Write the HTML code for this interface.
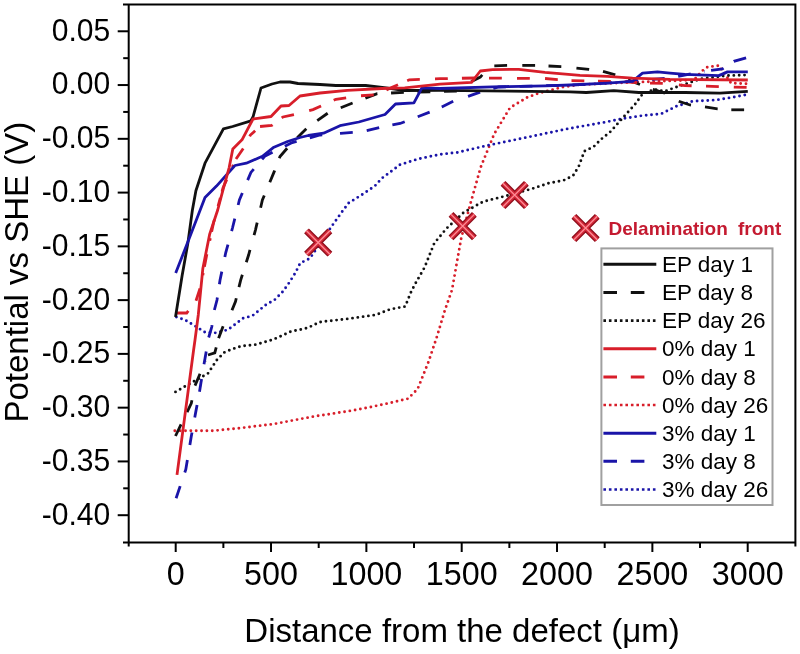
<!DOCTYPE html>
<html><head><meta charset="utf-8"><style>
html,body{margin:0;padding:0;background:#fff;width:800px;height:654px;overflow:hidden}
svg{display:block;will-change:transform}
text{font-family:"Liberation Sans",sans-serif;fill:#000}
</style></head><body>
<svg width="800" height="654" viewBox="0 0 800 654">
<rect width="800" height="654" fill="#fff"/>
<polyline points="174.8,430.8 213.3,430.8 240.8,428.0 273.9,424.0 313.0,416.6 348.8,411.1 370.8,407.0 390.1,402.9 408.0,398.7 417.6,389.1 428.6,361.6 436.9,336.8 445.2,309.3 452.0,290.0 461.2,238.3 471.0,201.6 480.7,167.3 494.2,134.0 510.0,107.8 527.5,97.3 540.1,92.8 563.0,87.0 580.0,84.7 640.0,82.0 694.0,80.0 702.5,70.6 707.5,67.0 719.0,65.6 725.0,74.0 731.0,83.1 747.8,83.8" stroke="#d81e2a" stroke-width="2.9" fill="none" stroke-linecap="round" stroke-dasharray="0 5.35"/>
<polyline points="176.4,317.0 185.0,319.9 204.9,332.1 215.6,332.9 227.8,329.8 243.1,318.3 252.4,315.8 265.9,304.8 274.5,300.0 283.0,291.4 289.1,282.8 295.3,273.0 300.2,263.2 310.0,258.3 332.0,225.9 341.2,212.9 348.8,202.9 361.0,195.3 374.8,186.1 381.7,178.4 400.1,164.7 418.4,158.9 440.0,154.4 457.5,152.4 487.3,145.5 531.9,136.3 567.5,128.8 605.0,122.2 623.8,118.4 642.5,115.6 661.3,113.8 676.3,106.3 692.5,101.3 716.3,100.0 735.0,96.9 747.8,94.4" stroke="#1a14a8" stroke-width="2.9" fill="none" stroke-linecap="round" stroke-dasharray="0 5.35"/>
<polyline points="175.5,391.9 185.0,386.4 208.0,373.4 217.1,359.6 224.8,352.0 237.0,347.4 243.1,345.9 256.0,344.6 273.5,339.4 291.0,331.5 307.5,328.0 320.0,322.0 348.8,318.7 376.3,314.8 390.1,309.3 405.2,306.5 410.7,292.8 414.7,284.8 424.5,267.6 434.3,243.2 446.5,228.5 463.6,212.6 483.2,201.6 502.8,196.7 531.9,188.8 548.8,183.1 563.8,180.3 573.1,175.6 578.8,166.3 584.4,151.3 593.8,146.6 601.3,139.1 610.6,131.6 618.1,123.1 625.6,114.7 635.0,104.4 642.5,94.1 653.8,89.4 665.0,91.3 675.0,87.5 701.0,78.8 727.5,75.6 747.8,75.0" stroke="#111" stroke-width="2.9" fill="none" stroke-linecap="round" stroke-dasharray="0 5.35"/>
<polyline points="175.50,436.00 184.25,417.89" stroke="#111" stroke-width="2.8" fill="none" stroke-dasharray="12.8 13.7" stroke-dashoffset="0.00"/>
<polyline points="184.25,417.89 191.30,403.30 193.67,391.96" stroke="#111" stroke-width="2.8" fill="none" stroke-dasharray="12.8 13.7" stroke-dashoffset="20.00"/>
<polyline points="193.67,391.96 195.00,385.60 199.50,375.00 205.46,360.98" stroke="#111" stroke-width="2.8" fill="none" stroke-dasharray="12.8 13.7" stroke-dashoffset="20.00"/>
<polyline points="205.46,360.98 208.00,355.00 214.80,352.80 216.96,344.49" stroke="#111" stroke-width="2.8" fill="none" stroke-dasharray="12.8 13.7" stroke-dashoffset="20.00"/>
<polyline points="216.96,344.49 218.60,338.20 223.20,326.00 229.06,316.10" stroke="#111" stroke-width="2.8" fill="none" stroke-dasharray="12.8 13.7" stroke-dashoffset="20.00"/>
<polyline points="229.06,316.10 230.90,313.00 235.50,301.50 237.44,293.42" stroke="#111" stroke-width="2.8" fill="none" stroke-dasharray="12.8 13.7" stroke-dashoffset="20.00"/>
<polyline points="237.44,293.42 240.60,280.30 244.35,268.45" stroke="#111" stroke-width="2.8" fill="none" stroke-dasharray="12.8 13.7" stroke-dashoffset="20.00"/>
<polyline points="244.35,268.45 248.60,255.00 252.35,241.31" stroke="#111" stroke-width="2.8" fill="none" stroke-dasharray="12.8 13.7" stroke-dashoffset="20.00"/>
<polyline points="252.35,241.31 255.50,229.80 259.15,214.04" stroke="#111" stroke-width="2.8" fill="none" stroke-dasharray="12.8 13.7" stroke-dashoffset="20.00"/>
<polyline points="259.15,214.04 262.40,200.00 267.30,188.23" stroke="#111" stroke-width="2.8" fill="none" stroke-dasharray="12.8 13.7" stroke-dashoffset="20.00"/>
<polyline points="267.30,188.23 273.90,172.40 277.00,164.32" stroke="#111" stroke-width="2.8" fill="none" stroke-dasharray="12.8 13.7" stroke-dashoffset="20.00"/>
<polyline points="277.00,164.32 280.00,156.50 290.00,145.00 292.65,142.35" stroke="#111" stroke-width="2.8" fill="none" stroke-dasharray="12.8 13.7" stroke-dashoffset="20.00"/>
<polyline points="292.65,142.35 307.00,128.00 311.96,124.45" stroke="#111" stroke-width="2.8" fill="none" stroke-dasharray="12.8 13.7" stroke-dashoffset="20.00"/>
<polyline points="311.96,124.45 328.00,113.00 334.72,110.26" stroke="#111" stroke-width="2.8" fill="none" stroke-dasharray="12.8 13.7" stroke-dashoffset="20.00"/>
<polyline points="334.72,110.26 352.00,103.20 377.20,93.60 404.70,92.40 462.00,91.00 466.90,86.10" stroke="#111" stroke-width="2.8" fill="none" stroke-dasharray="12.8 13.7" stroke-dashoffset="20.00"/>
<polyline points="466.90,86.10 471.50,81.50 480.30,77.10 488.56,67.64" stroke="#111" stroke-width="2.8" fill="none" stroke-dasharray="12.8 13.7" stroke-dashoffset="20.00"/>
<polyline points="488.56,67.64 490.00,66.00 507.40,65.40 515.80,65.40" stroke="#111" stroke-width="2.8" fill="none" stroke-dasharray="12.8 13.7" stroke-dashoffset="20.00"/>
<polyline points="515.80,65.40 535.40,65.40 542.03,65.70" stroke="#111" stroke-width="2.8" fill="none" stroke-dasharray="12.8 13.7" stroke-dashoffset="20.00"/>
<polyline points="542.03,65.70 561.60,66.60 569.97,67.46" stroke="#111" stroke-width="2.8" fill="none" stroke-dasharray="12.8 13.7" stroke-dashoffset="20.00"/>
<polyline points="569.97,67.46 588.80,69.40 596.56,70.44" stroke="#111" stroke-width="2.8" fill="none" stroke-dasharray="12.8 13.7" stroke-dashoffset="20.00"/>
<polyline points="596.56,70.44 603.00,71.30 615.60,75.00 651.00,88.80 667.00,93.80 673.31,97.81" stroke="#111" stroke-width="2.8" fill="none" stroke-dasharray="12.8 13.7" stroke-dashoffset="20.00"/>
<polyline points="673.31,97.81 678.80,101.30 690.00,105.00 698.55,106.08" stroke="#111" stroke-width="2.8" fill="none" stroke-dasharray="12.8 13.7" stroke-dashoffset="20.00"/>
<polyline points="698.55,106.08 705.00,106.90 717.50,108.80 724.82,109.33" stroke="#111" stroke-width="2.8" fill="none" stroke-dasharray="12.8 13.7" stroke-dashoffset="20.00"/>
<polyline points="724.82,109.33 731.30,109.80 747.80,109.80" stroke="#111" stroke-width="2.8" fill="none" stroke-dasharray="12.8 13.7" stroke-dashoffset="20.00"/>
<polyline points="176.10,498.30 182.71,478.62" stroke="#1a14a8" stroke-width="2.8" fill="none" stroke-dasharray="12.8 13.7" stroke-dashoffset="0.00"/>
<polyline points="182.71,478.62 185.80,469.40 188.79,451.42" stroke="#1a14a8" stroke-width="2.8" fill="none" stroke-dasharray="12.8 13.7" stroke-dashoffset="20.00"/>
<polyline points="188.79,451.42 191.30,436.30 193.57,423.96" stroke="#1a14a8" stroke-width="2.8" fill="none" stroke-dasharray="12.8 13.7" stroke-dashoffset="20.00"/>
<polyline points="193.57,423.96 198.32,398.09" stroke="#1a14a8" stroke-width="2.8" fill="none" stroke-dasharray="12.8 13.7" stroke-dashoffset="20.00"/>
<polyline points="198.32,398.09 199.50,391.70 202.95,370.61" stroke="#1a14a8" stroke-width="2.8" fill="none" stroke-dasharray="12.8 13.7" stroke-dashoffset="20.00"/>
<polyline points="202.95,370.61 204.00,364.20 207.57,343.90" stroke="#1a14a8" stroke-width="2.8" fill="none" stroke-dasharray="12.8 13.7" stroke-dashoffset="20.00"/>
<polyline points="207.57,343.90 208.70,337.50 211.80,326.80 213.29,316.42" stroke="#1a14a8" stroke-width="2.8" fill="none" stroke-dasharray="12.8 13.7" stroke-dashoffset="20.00"/>
<polyline points="213.29,316.42 214.00,311.50 217.00,300.00 218.43,290.61" stroke="#1a14a8" stroke-width="2.8" fill="none" stroke-dasharray="12.8 13.7" stroke-dashoffset="20.00"/>
<polyline points="218.43,290.61 220.00,280.30 223.52,263.29" stroke="#1a14a8" stroke-width="2.8" fill="none" stroke-dasharray="12.8 13.7" stroke-dashoffset="20.00"/>
<polyline points="223.52,263.29 225.70,252.80 229.93,237.29" stroke="#1a14a8" stroke-width="2.8" fill="none" stroke-dasharray="12.8 13.7" stroke-dashoffset="20.00"/>
<polyline points="229.93,237.29 232.60,227.50 236.60,211.32" stroke="#1a14a8" stroke-width="2.8" fill="none" stroke-dasharray="12.8 13.7" stroke-dashoffset="20.00"/>
<polyline points="236.60,211.32 239.40,200.00 245.17,186.16" stroke="#1a14a8" stroke-width="2.8" fill="none" stroke-dasharray="12.8 13.7" stroke-dashoffset="20.00"/>
<polyline points="245.17,186.16 250.90,172.40 257.87,164.27" stroke="#1a14a8" stroke-width="2.8" fill="none" stroke-dasharray="12.8 13.7" stroke-dashoffset="20.00"/>
<polyline points="257.87,164.27 264.70,156.30 278.40,149.40 292.20,142.60 320.00,135.00 333.53,133.88" stroke="#1a14a8" stroke-width="2.8" fill="none" stroke-dasharray="12.8 13.7" stroke-dashoffset="20.00"/>
<polyline points="333.53,133.88 340.50,133.30 360.34,131.65" stroke="#1a14a8" stroke-width="2.8" fill="none" stroke-dasharray="12.8 13.7" stroke-dashoffset="20.00"/>
<polyline points="360.34,131.65 363.40,131.40 381.70,127.00 385.99,126.18" stroke="#1a14a8" stroke-width="2.8" fill="none" stroke-dasharray="12.8 13.7" stroke-dashoffset="20.00"/>
<polyline points="385.99,126.18 400.10,123.50 411.64,119.08" stroke="#1a14a8" stroke-width="2.8" fill="none" stroke-dasharray="12.8 13.7" stroke-dashoffset="20.00"/>
<polyline points="411.64,119.08 418.40,116.50 430.00,112.00 435.78,109.50" stroke="#1a14a8" stroke-width="2.8" fill="none" stroke-dasharray="12.8 13.7" stroke-dashoffset="20.00"/>
<polyline points="435.78,109.50 441.80,106.90 454.00,100.80 461.86,98.33" stroke="#1a14a8" stroke-width="2.8" fill="none" stroke-dasharray="12.8 13.7" stroke-dashoffset="20.00"/>
<polyline points="461.86,98.33 468.00,96.40 480.30,92.00 498.80,87.00 580.00,84.70 615.00,82.40 645.00,80.00 670.00,78.00 700.00,72.00 704.63,71.34" stroke="#1a14a8" stroke-width="2.8" fill="none" stroke-dasharray="12.8 13.7" stroke-dashoffset="20.00"/>
<polyline points="704.63,71.34 722.50,68.80 728.38,64.89" stroke="#1a14a8" stroke-width="2.8" fill="none" stroke-dasharray="12.8 13.7" stroke-dashoffset="20.00"/>
<polyline points="728.38,64.89 733.80,61.30 747.80,57.30" stroke="#1a14a8" stroke-width="2.8" fill="none" stroke-dasharray="12.8 13.7" stroke-dashoffset="20.00"/>
<polyline points="175.50,313.00 186.70,313.00 192.14,305.90" stroke="#d81e2a" stroke-width="2.8" fill="none" stroke-dasharray="12.8 13.7" stroke-dashoffset="25.50"/>
<polyline points="192.14,305.90 195.90,301.00 200.50,287.00 203.20,273.07" stroke="#d81e2a" stroke-width="2.8" fill="none" stroke-dasharray="12.8 13.7" stroke-dashoffset="20.00"/>
<polyline points="203.20,273.07 206.50,256.00 210.29,238.15" stroke="#d81e2a" stroke-width="2.8" fill="none" stroke-dasharray="12.8 13.7" stroke-dashoffset="20.00"/>
<polyline points="210.29,238.15 213.50,223.00 220.33,197.83" stroke="#d81e2a" stroke-width="2.8" fill="none" stroke-dasharray="12.8 13.7" stroke-dashoffset="20.00"/>
<polyline points="220.33,197.83 223.00,188.00 233.34,164.93" stroke="#d81e2a" stroke-width="2.8" fill="none" stroke-dasharray="12.8 13.7" stroke-dashoffset="20.00"/>
<polyline points="233.34,164.93 236.00,159.00 245.00,145.90 250.40,135.00 255.17,130.78" stroke="#d81e2a" stroke-width="2.8" fill="none" stroke-dasharray="12.8 13.7" stroke-dashoffset="20.00"/>
<polyline points="255.17,130.78 260.00,126.50 271.60,125.50 276.50,121.85" stroke="#d81e2a" stroke-width="2.8" fill="none" stroke-dasharray="12.8 13.7" stroke-dashoffset="20.00"/>
<polyline points="276.50,121.85 283.00,117.00 294.50,114.50 302.89,112.28" stroke="#d81e2a" stroke-width="2.8" fill="none" stroke-dasharray="12.8 13.7" stroke-dashoffset="20.00"/>
<polyline points="302.89,112.28 313.00,109.60 327.76,102.96" stroke="#d81e2a" stroke-width="2.8" fill="none" stroke-dasharray="12.8 13.7" stroke-dashoffset="20.00"/>
<polyline points="327.76,102.96 335.90,99.30 354.55,96.53" stroke="#d81e2a" stroke-width="2.8" fill="none" stroke-dasharray="12.8 13.7" stroke-dashoffset="20.00"/>
<polyline points="354.55,96.53 358.80,95.90 377.20,94.70 391.00,87.80 401.26,83.32" stroke="#d81e2a" stroke-width="2.8" fill="none" stroke-dasharray="12.8 13.7" stroke-dashoffset="20.00"/>
<polyline points="401.26,83.32 409.30,79.80 428.51,79.11" stroke="#d81e2a" stroke-width="2.8" fill="none" stroke-dasharray="12.8 13.7" stroke-dashoffset="20.00"/>
<polyline points="428.51,79.11 440.00,78.70 455.42,78.40" stroke="#d81e2a" stroke-width="2.8" fill="none" stroke-dasharray="12.8 13.7" stroke-dashoffset="20.00"/>
<polyline points="455.42,78.40 475.90,78.00 482.50,78.05" stroke="#d81e2a" stroke-width="2.8" fill="none" stroke-dasharray="12.8 13.7" stroke-dashoffset="20.00"/>
<polyline points="482.50,78.05 510.50,78.25" stroke="#d81e2a" stroke-width="2.8" fill="none" stroke-dasharray="12.8 13.7" stroke-dashoffset="20.00"/>
<polyline points="510.50,78.25 538.53,78.45" stroke="#d81e2a" stroke-width="2.8" fill="none" stroke-dasharray="12.8 13.7" stroke-dashoffset="20.00"/>
<polyline points="538.53,78.45 545.00,78.50 565.02,80.18" stroke="#d81e2a" stroke-width="2.8" fill="none" stroke-dasharray="12.8 13.7" stroke-dashoffset="20.00"/>
<polyline points="565.02,80.18 570.00,80.60 591.50,80.97" stroke="#d81e2a" stroke-width="2.8" fill="none" stroke-dasharray="12.8 13.7" stroke-dashoffset="20.00"/>
<polyline points="591.50,80.97 611.00,81.30 643.51,82.80" stroke="#d81e2a" stroke-width="2.8" fill="none" stroke-dasharray="12.8 13.7" stroke-dashoffset="20.00"/>
<polyline points="643.51,82.80 650.00,83.10 665.00,83.50 672.40,84.28" stroke="#d81e2a" stroke-width="2.8" fill="none" stroke-dasharray="12.8 13.7" stroke-dashoffset="20.00"/>
<polyline points="672.40,84.28 685.00,85.60 699.51,85.98" stroke="#d81e2a" stroke-width="2.8" fill="none" stroke-dasharray="12.8 13.7" stroke-dashoffset="20.00"/>
<polyline points="699.51,85.98 712.00,86.30 727.32,86.81" stroke="#d81e2a" stroke-width="2.8" fill="none" stroke-dasharray="12.8 13.7" stroke-dashoffset="20.00"/>
<polyline points="727.32,86.81 747.80,87.50" stroke="#d81e2a" stroke-width="2.8" fill="none" stroke-dasharray="12.8 13.7" stroke-dashoffset="20.00"/>
<polyline points="175.5,317.0 182.1,275.7 187.8,243.6 192.4,210.0 195.9,190.7 205.0,163.2 223.4,128.8 232.6,126.5 250.9,120.8 253.0,117.0 261.0,88.0 272.0,84.0 280.0,82.0 290.0,82.0 298.0,83.5 320.0,84.5 335.9,85.5 365.7,85.5 386.3,87.8 404.7,90.5 440.0,90.3 510.0,91.1 570.0,91.9 586.3,92.5 613.8,90.6 638.8,92.5 670.0,92.5 685.0,92.5 720.0,93.1 747.8,91.3" stroke="#111" stroke-width="2.8" fill="none" stroke-linejoin="round"/>
<polyline points="175.7,273.0 189.0,239.0 205.0,197.6 216.5,186.1 234.9,165.5 246.3,163.2 262.4,156.3 273.9,147.2 287.6,141.5 300.0,137.5 308.3,135.5 323.5,133.2 340.0,125.7 358.8,122.0 385.0,114.5 395.5,104.0 413.9,102.8 421.9,87.8 440.0,88.5 492.5,86.8 545.0,85.9 570.0,85.0 607.5,83.1 632.5,81.3 642.5,73.1 657.5,71.9 670.0,73.1 685.0,74.4 718.8,75.6 727.5,71.9 747.8,71.9" stroke="#1a14a8" stroke-width="2.8" fill="none" stroke-linejoin="round"/>
<polyline points="177.0,474.9 193.6,350.0 195.0,340.0 198.3,314.7 202.8,268.8 209.6,234.4 217.7,210.0 223.4,188.4 229.1,167.8 232.8,148.9 242.0,139.8 253.0,119.0 271.0,116.5 281.0,106.0 289.0,105.5 300.0,96.0 320.0,93.0 347.3,90.3 381.7,88.5 404.7,87.8 440.0,84.1 471.5,82.4 480.3,71.0 492.5,69.6 518.8,69.3 545.0,72.4 580.0,75.4 607.5,76.3 632.5,78.1 670.0,79.4 747.8,80.0" stroke="#d81e2a" stroke-width="2.8" fill="none" stroke-linejoin="round"/>
<rect x="602.4" y="249.4" width="169.1" height="254.6" fill="#fff" stroke="none"/>
<rect x="601.4" y="248.4" width="171.1" height="256.6" fill="none" stroke="#a0a0a0" stroke-width="2"/>
<line x1="603.4" y1="264.30" x2="656.3" y2="264.30" stroke="#111" stroke-width="3"/>
<text x="662" y="272.0" font-size="22.5">EP day 1</text>
<line x1="603.4" y1="292.45" x2="656.3" y2="292.45" stroke="#111" stroke-width="3" stroke-dasharray="13.6 13.8"/>
<text x="662" y="300.1" font-size="22.5">EP day 8</text>
<line x1="603.4" y1="320.60" x2="656.3" y2="320.60" stroke="#111" stroke-width="2.6" stroke-dasharray="2.6 2.9"/>
<text x="662" y="328.3" font-size="22.5">EP day 26</text>
<line x1="603.4" y1="348.75" x2="656.3" y2="348.75" stroke="#d81e2a" stroke-width="3"/>
<text x="662" y="356.4" font-size="22.5">0% day 1</text>
<line x1="603.4" y1="376.90" x2="656.3" y2="376.90" stroke="#d81e2a" stroke-width="3" stroke-dasharray="13.6 13.8"/>
<text x="662" y="384.6" font-size="22.5">0% day 8</text>
<line x1="603.4" y1="405.05" x2="656.3" y2="405.05" stroke="#d81e2a" stroke-width="2.6" stroke-dasharray="2.6 2.9"/>
<text x="662" y="412.8" font-size="22.5">0% day 26</text>
<line x1="603.4" y1="433.20" x2="656.3" y2="433.20" stroke="#1a14a8" stroke-width="3"/>
<text x="662" y="440.9" font-size="22.5">3% day 1</text>
<line x1="603.4" y1="461.35" x2="656.3" y2="461.35" stroke="#1a14a8" stroke-width="3" stroke-dasharray="13.6 13.8"/>
<text x="662" y="469.1" font-size="22.5">3% day 8</text>
<line x1="603.4" y1="489.50" x2="656.3" y2="489.50" stroke="#1a14a8" stroke-width="2.6" stroke-dasharray="2.6 2.9"/>
<text x="662" y="497.2" font-size="22.5">3% day 26</text>
<path d="M306.5,230.8L329.9,254.2M306.5,254.2L329.9,230.8" stroke="#8e0f1c" stroke-width="6.8" fill="none"/><path d="M306.5,230.8L329.9,254.2M306.5,254.2L329.9,230.8" stroke="#d22838" stroke-width="4.2" fill="none"/><path d="M306.5,230.8L329.9,254.2M306.5,254.2L329.9,230.8" stroke="#ff8c96" stroke-width="1.3" fill="none"/>
<path d="M451.0,214.4L474.4,237.79999999999998M451.0,237.79999999999998L474.4,214.4" stroke="#8e0f1c" stroke-width="6.8" fill="none"/><path d="M451.0,214.4L474.4,237.79999999999998M451.0,237.79999999999998L474.4,214.4" stroke="#d22838" stroke-width="4.2" fill="none"/><path d="M451.0,214.4L474.4,237.79999999999998M451.0,237.79999999999998L474.4,214.4" stroke="#ff8c96" stroke-width="1.3" fill="none"/>
<path d="M503.00000000000006,183.3L526.4000000000001,206.7M503.00000000000006,206.7L526.4000000000001,183.3" stroke="#8e0f1c" stroke-width="6.8" fill="none"/><path d="M503.00000000000006,183.3L526.4000000000001,206.7M503.00000000000006,206.7L526.4000000000001,183.3" stroke="#d22838" stroke-width="4.2" fill="none"/><path d="M503.00000000000006,183.3L526.4000000000001,206.7M503.00000000000006,206.7L526.4000000000001,183.3" stroke="#ff8c96" stroke-width="1.3" fill="none"/>
<path d="M573.9,216.3L597.3000000000001,239.7M573.9,239.7L597.3000000000001,216.3" stroke="#8e0f1c" stroke-width="6.8" fill="none"/><path d="M573.9,216.3L597.3000000000001,239.7M573.9,239.7L597.3000000000001,216.3" stroke="#d22838" stroke-width="4.2" fill="none"/><path d="M573.9,216.3L597.3000000000001,239.7M573.9,239.7L597.3000000000001,216.3" stroke="#ff8c96" stroke-width="1.3" fill="none"/>
<text x="608.5" y="234.8" font-size="19" font-weight="bold" style="fill:#c41a30">Delamination</text><text x="738" y="234.8" font-size="19" font-weight="bold" style="fill:#c41a30">front</text>
<path d="M123,4.4H795.4V546.5M128.7,546.5V4.4M123,542.5H795.4" stroke="#000" stroke-width="2" fill="none"/>
<line x1="175.70" y1="542.5" x2="175.70" y2="552.0" stroke="#000" stroke-width="2"/>
<line x1="223.37" y1="542.5" x2="223.37" y2="548.0" stroke="#000" stroke-width="2"/>
<line x1="271.03" y1="542.5" x2="271.03" y2="552.0" stroke="#000" stroke-width="2"/>
<line x1="318.70" y1="542.5" x2="318.70" y2="548.0" stroke="#000" stroke-width="2"/>
<line x1="366.37" y1="542.5" x2="366.37" y2="552.0" stroke="#000" stroke-width="2"/>
<line x1="414.03" y1="542.5" x2="414.03" y2="548.0" stroke="#000" stroke-width="2"/>
<line x1="461.70" y1="542.5" x2="461.70" y2="552.0" stroke="#000" stroke-width="2"/>
<line x1="509.37" y1="542.5" x2="509.37" y2="548.0" stroke="#000" stroke-width="2"/>
<line x1="557.03" y1="542.5" x2="557.03" y2="552.0" stroke="#000" stroke-width="2"/>
<line x1="604.70" y1="542.5" x2="604.70" y2="548.0" stroke="#000" stroke-width="2"/>
<line x1="652.37" y1="542.5" x2="652.37" y2="552.0" stroke="#000" stroke-width="2"/>
<line x1="700.03" y1="542.5" x2="700.03" y2="548.0" stroke="#000" stroke-width="2"/>
<line x1="747.70" y1="542.5" x2="747.70" y2="552.0" stroke="#000" stroke-width="2"/>
<line x1="117.70" y1="31.28" x2="128.7" y2="31.28" stroke="#000" stroke-width="2"/>
<line x1="123.20" y1="58.17" x2="128.7" y2="58.17" stroke="#000" stroke-width="2"/>
<line x1="117.70" y1="85.05" x2="128.7" y2="85.05" stroke="#000" stroke-width="2"/>
<line x1="123.20" y1="111.93" x2="128.7" y2="111.93" stroke="#000" stroke-width="2"/>
<line x1="117.70" y1="138.82" x2="128.7" y2="138.82" stroke="#000" stroke-width="2"/>
<line x1="123.20" y1="165.70" x2="128.7" y2="165.70" stroke="#000" stroke-width="2"/>
<line x1="117.70" y1="192.59" x2="128.7" y2="192.59" stroke="#000" stroke-width="2"/>
<line x1="123.20" y1="219.47" x2="128.7" y2="219.47" stroke="#000" stroke-width="2"/>
<line x1="117.70" y1="246.36" x2="128.7" y2="246.36" stroke="#000" stroke-width="2"/>
<line x1="123.20" y1="273.24" x2="128.7" y2="273.24" stroke="#000" stroke-width="2"/>
<line x1="117.70" y1="300.12" x2="128.7" y2="300.12" stroke="#000" stroke-width="2"/>
<line x1="123.20" y1="327.01" x2="128.7" y2="327.01" stroke="#000" stroke-width="2"/>
<line x1="117.70" y1="353.89" x2="128.7" y2="353.89" stroke="#000" stroke-width="2"/>
<line x1="123.20" y1="380.78" x2="128.7" y2="380.78" stroke="#000" stroke-width="2"/>
<line x1="117.70" y1="407.66" x2="128.7" y2="407.66" stroke="#000" stroke-width="2"/>
<line x1="123.20" y1="434.55" x2="128.7" y2="434.55" stroke="#000" stroke-width="2"/>
<line x1="117.70" y1="461.43" x2="128.7" y2="461.43" stroke="#000" stroke-width="2"/>
<line x1="123.20" y1="488.32" x2="128.7" y2="488.32" stroke="#000" stroke-width="2"/>
<line x1="117.70" y1="515.20" x2="128.7" y2="515.20" stroke="#000" stroke-width="2"/>
<text transform="translate(110.3,40.68) scale(0.955,1)" text-anchor="end" font-size="31.5">0.05</text>
<text transform="translate(110.3,94.45) scale(0.955,1)" text-anchor="end" font-size="31.5">0.00</text>
<text transform="translate(110.3,148.22) scale(0.955,1)" text-anchor="end" font-size="31.5">-0.05</text>
<text transform="translate(110.3,201.99) scale(0.955,1)" text-anchor="end" font-size="31.5">-0.10</text>
<text transform="translate(110.3,255.76) scale(0.955,1)" text-anchor="end" font-size="31.5">-0.15</text>
<text transform="translate(110.3,309.52) scale(0.955,1)" text-anchor="end" font-size="31.5">-0.20</text>
<text transform="translate(110.3,363.29) scale(0.955,1)" text-anchor="end" font-size="31.5">-0.25</text>
<text transform="translate(110.3,417.06) scale(0.955,1)" text-anchor="end" font-size="31.5">-0.30</text>
<text transform="translate(110.3,470.83) scale(0.955,1)" text-anchor="end" font-size="31.5">-0.35</text>
<text transform="translate(110.3,524.60) scale(0.955,1)" text-anchor="end" font-size="31.5">-0.40</text>
<text x="175.7" y="585" text-anchor="middle" font-size="32.3">0</text>
<text x="271.0" y="585" text-anchor="middle" font-size="32.3">500</text>
<text x="366.4" y="585" text-anchor="middle" font-size="32.3">1000</text>
<text x="461.7" y="585" text-anchor="middle" font-size="32.3">1500</text>
<text x="557.0" y="585" text-anchor="middle" font-size="32.3">2000</text>
<text x="652.4" y="585" text-anchor="middle" font-size="32.3">2500</text>
<text x="747.7" y="585" text-anchor="middle" font-size="32.3">3000</text>
<text x="462" y="641.8" text-anchor="middle" font-size="33">Distance from the defect (μm)</text>
<text transform="translate(28.3,272.2) rotate(-90)" text-anchor="middle" font-size="33">Potential vs SHE (V)</text>
</svg>
</body></html>
